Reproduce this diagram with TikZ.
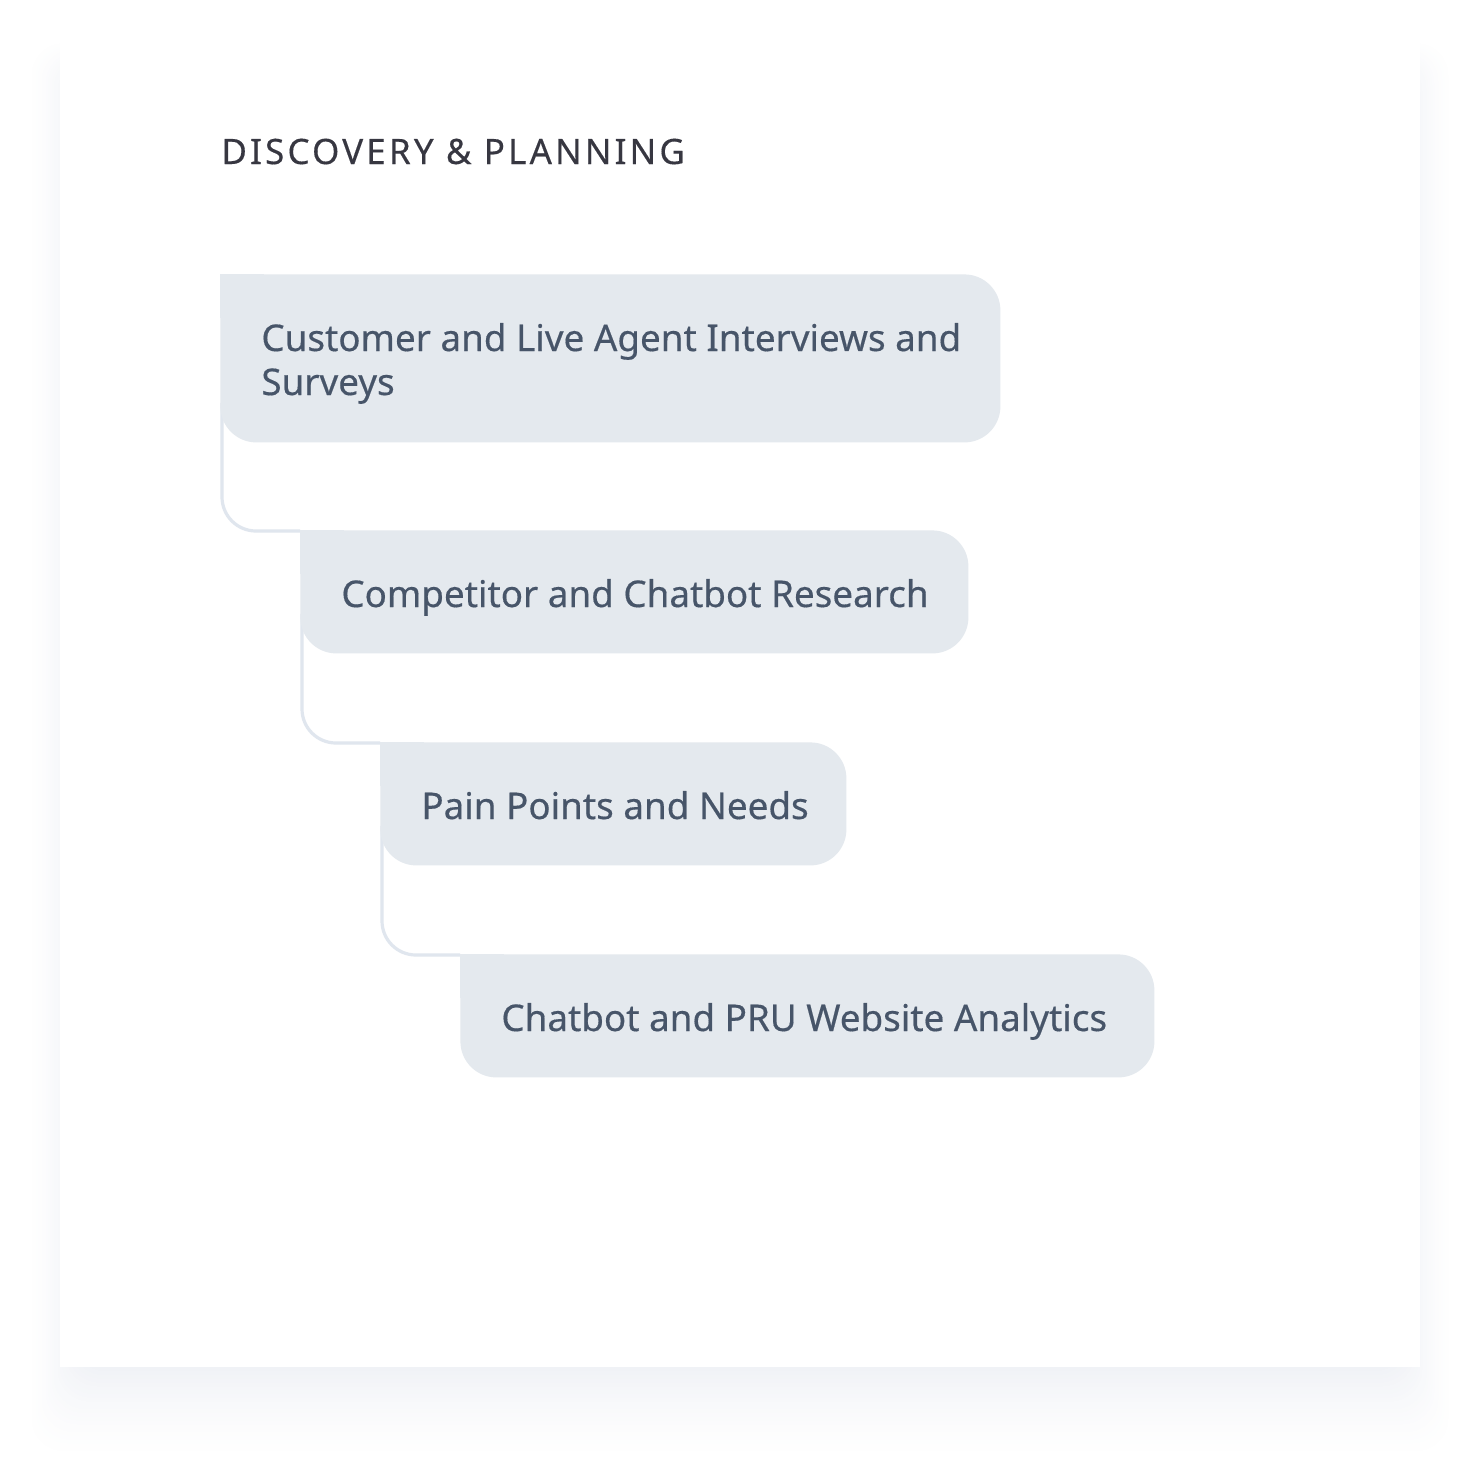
\documentclass[tikz,border=0pt]{standalone}
\usepackage{fontspec}
\setmainfont{Noto Sans}
\newfontfamily\boxfont[FakeBold=0.4]{Noto Sans}
\newfontfamily\titlefont[LetterSpace=9,FakeBold=0.3]{Noto Sans}
\usetikzlibrary{calc}
\pgfdeclarelayer{bg}
\pgfdeclarelayer{lines}
\pgfsetlayers{bg,lines,main}
\definecolor{boxfill}{RGB}{228,233,238}
\definecolor{conncol}{RGB}{224,230,238}
\definecolor{boxtext}{RGB}{71,85,105}
\definecolor{titlecol}{RGB}{55,55,65}
\definecolor{shadowbase}{RGB}{240,242,246}
\tikzset{
  stepbox/.style={fill=boxfill, draw=none, rounded corners=18pt, anchor=north west, inner sep=0pt},
  boxlabel/.style={anchor=base west, inner sep=0pt, text=boxtext, font=\boxfont\fontsize{18.4}{22}\selectfont},
  conn/.style={draw=conncol, line width=1.6pt, rounded corners=17pt},
  titlelabel/.style={anchor=base west, inner sep=0pt, text=titlecol, font=\titlefont\fontsize{17.5}{20}\selectfont}
}
\begin{document}
\begin{tikzpicture}[x=0.5pt,y=-0.5pt]
\useasboundingbox (0,0) rectangle (1480,1480);
% shadow
\begin{pgfonlayer}{bg}
\fill[white] (0,0) rectangle (1480,1480);
\foreach \i in {24,23,...,1}{
  \pgfmathsetmacro\p{100*((25-\i)/24)^1.5}
  \fill[shadowbase!\p!white, rounded corners=16pt] ({76-2.0*\i},{70-1.2*\i}) rectangle ({1404+2.0*\i},{1367+3.8*\i});
}
\fill[white] (60,35) rectangle (1420,1367);
\end{pgfonlayer}
\node[titlelabel] (title) at (221,164) {DISCOVERY \& PLANNING};
% boxes
\node[stepbox, minimum width=390pt, minimum height=84pt] (b1) at (220,274) {};
\node[stepbox, minimum width=334pt, minimum height=61.5pt] (b2) at (300,530) {};
\node[stepbox, minimum width=233pt, minimum height=61.5pt] (b3) at (380,742) {};
\node[stepbox, minimum width=347pt, minimum height=61.5pt] (b4) at (460,954) {};
\foreach \b in {b1,b2,b3,b4}{
  \fill[boxfill] (\b.north west) rectangle ++(44,44);
}
% texts
\node[boxlabel] (t1a) at (261,351) {Customer and Live Agent Interviews and};
\node[boxlabel] (t1b) at (261,395) {Surveys};
\node[boxlabel] (t2) at (341,607) {Competitor and Chatbot Research};
\node[boxlabel] (t3) at (421,819) {Pain Points and Needs};
\node[boxlabel] (t4) at (501,1031) {Chatbot and PRU Website Analytics};
% connectors
\begin{pgfonlayer}{lines}
\draw[conn] ($(b1.south west)+(2,-40)$) |- ($(b2.north west)+(0,1)$);
\draw[conn] ($(b2.south west)+(2,-40)$) |- ($(b3.north west)+(0,1)$);
\draw[conn] ($(b3.south west)+(2,-40)$) |- ($(b4.north west)+(0,1)$);
\end{pgfonlayer}
\end{tikzpicture}
\end{document}
